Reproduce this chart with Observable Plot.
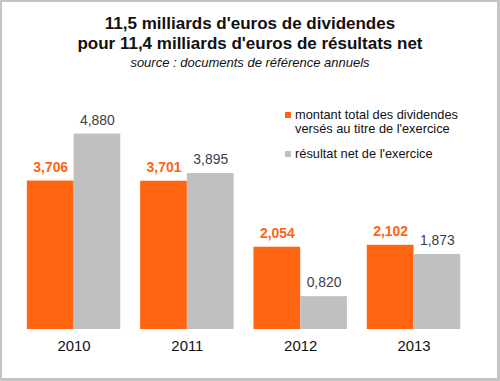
<!DOCTYPE html>
<html>
<head>
<meta charset="utf-8">
<script src="https://cdn.jsdelivr.net/npm/d3@7"></script>
<script src="https://cdn.jsdelivr.net/npm/@observablehq/plot@0.6"></script>
<style>
  html, body { margin: 0; padding: 0; background: #fff; }
  #wrap {
    position: relative; width: 500px; height: 381px; box-sizing: border-box;
    border-style: solid; border-color: #c4c4c4;
    border-width: 2px 3px 3px 2px;
    font-family: "Liberation Sans", Arial, sans-serif; overflow: hidden;
  }
  #chart { position: absolute; left: -2px; top: -2px; }
  #title {
    position: absolute; left: -2px; top: 12px; width: 500px; text-align: center;
    font-weight: bold; font-size: 17px; line-height: 20px; color: #111;
  }
  #subtitle {
    position: absolute; left: -2px; top: 53px; width: 500px; text-align: center;
    font-style: italic; font-size: 13px; line-height: 16px; color: #111;
  }
  #legend { position: absolute; left: 283px; top: 106px; font-size: 12.8px; line-height: 14px; color: #111; }
  .item { position: relative; padding-left: 10px; }
  .sw { position: absolute; left: 0; top: 4px; width: 6px; height: 6px; }
</style>
</head>
<body>
<div id="wrap">
  <div id="chart"></div>
  <div id="title">11,5 milliards d'euros de dividendes<br>pour 11,4 milliards d'euros de résultats net</div>
  <div id="subtitle">source : documents de référence annuels</div>
  <div id="legend"></div>
</div>
<script>
const years = ["2010", "2011", "2012", "2013"];
const seriesNames = ["montant total des dividendes versés au titre de l'exercice", "résultat net de l'exercice"];
const legendLabels = ["montant total des dividendes<br>versés au titre de l'exercice", "résultat net de l'exercice"];
const dividendes = [3.706, 3.701, 2.054, 2.102];
const resultatNet = [4.880, 3.895, 0.820, 1.873];
const colors = ["#ff6410", "#c0c0c0"];

const data = [];
years.forEach((y, i) => {
  data.push({year: y, series: seriesNames[0], value: dividendes[i]});
  data.push({year: y, series: seriesNames[1], value: resultatNet[i]});
});
const fmt = v => d3.format(".3f")(v).replace(".", ",");

const chart = Plot.plot({
  width: 500,
  height: 381,
  marginLeft: 27,
  marginRight: 36,
  marginTop: 129.5,
  marginBottom: 50,
  style: {fontFamily: "'Liberation Sans', Arial, sans-serif", background: "transparent"},
  fx: {domain: years, paddingInner: 0.175, paddingOuter: 0, label: null},
  x: {domain: seriesNames, padding: 0, axis: null},
  y: {domain: [0, 5], axis: null},
  color: {domain: seriesNames, range: colors},
  marks: [
    Plot.barY(data, {fx: "year", x: "series", y: "value", fill: "series", inset: 0}),
    Plot.text(data.filter(d => d.series === seriesNames[0]), {
      fx: "year", x: "series", y: "value", text: d => fmt(d.value), dy: -14,
      fill: colors[0], fontWeight: "bold", fontSize: 14
    }),
    Plot.text(data.filter(d => d.series === seriesNames[1]), {
      fx: "year", x: "series", y: "value", text: d => fmt(d.value), dy: -14,
      fill: "#404040", fontSize: 14
    }),
    Plot.axisFx({anchor: "bottom", tickSize: 0, tickPadding: 11, fontSize: 15, label: null, color: "#111"})
  ]
});
document.getElementById("chart").appendChild(chart);

const legend = document.getElementById("legend");
legendLabels.forEach((lab, i) => {
  const div = document.createElement("div");
  div.className = "item";
  div.style.marginBottom = i === 0 ? "11px" : "0";
  div.innerHTML = `<span class="sw" style="background:${colors[i]}"></span>${lab}`;
  legend.appendChild(div);
});
</script>
</body>
</html>
